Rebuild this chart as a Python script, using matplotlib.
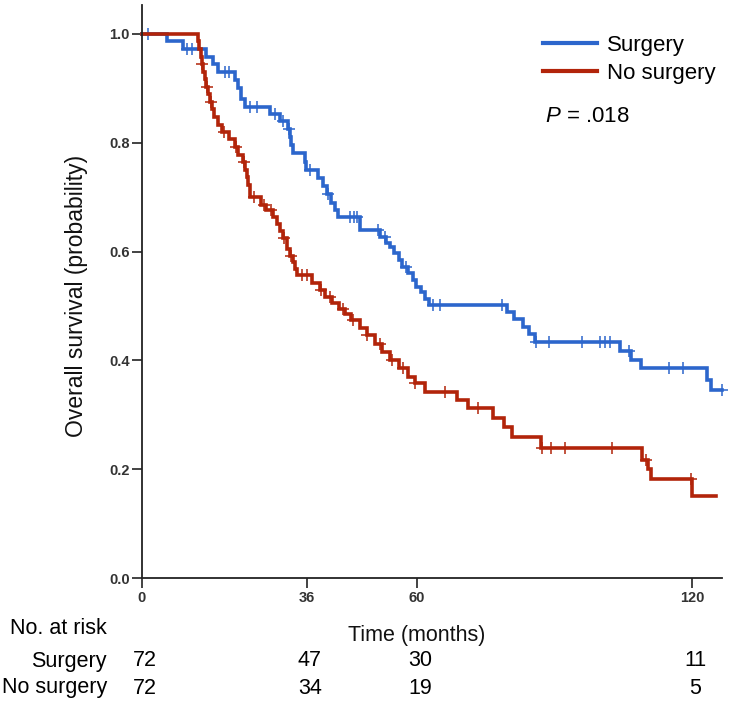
import numpy as np
import matplotlib
matplotlib.use("Agg")
import matplotlib.pyplot as plt
from matplotlib.lines import Line2D
from matplotlib.transforms import blended_transform_factory

plt.rcParams['font.family'] = ['Liberation Sans', 'DejaVu Sans']
plt.rcParams['mathtext.fontset'] = 'custom'
plt.rcParams['mathtext.it'] = 'Liberation Sans:italic'
plt.rcParams['mathtext.rm'] = 'Liberation Sans'

# === Data (event time in months, survival after the event) ===
surg_t = [5.4, 9.0, 14.0, 15.5, 16.5, 20.3, 21.0, 21.7, 22.4, 27.9, 30.0,
          31.8, 32.2, 32.6, 33.0, 35.5, 35.8, 38.3, 39.5, 40.3, 41.2, 42.0, 42.8,
          47.5, 51.8, 53.3, 54.0, 55.0, 56.0, 56.8, 58.0, 59.0, 59.8, 60.8, 61.8, 62.7,
          79.5, 81.2, 83.1, 84.5, 85.8, 104.2, 106.6, 108.8, 123.3, 124.0]
surg_s = [0.986, 0.972, 0.958, 0.944, 0.930, 0.915, 0.900, 0.880, 0.866, 0.852, 0.840,
          0.826, 0.811, 0.796, 0.781, 0.765, 0.750, 0.735, 0.720, 0.705, 0.690, 0.677, 0.664,
          0.640, 0.627, 0.616, 0.608, 0.597, 0.585, 0.572, 0.560, 0.547, 0.535, 0.525, 0.513, 0.502,
          0.489, 0.476, 0.462, 0.448, 0.434, 0.418, 0.400, 0.385, 0.364, 0.345]
surg_end = 126.4
surg_cens = [1.2, 9.8, 10.8, 18.2, 19.0, 23.5, 25.0, 29.0, 30.8, 32.0, 36.6, 40.6,
             45.3, 46.2, 47.0, 51.4, 53.0, 57.5, 63.5, 65.0, 78.6, 86.0, 88.7, 95.9,
             99.8, 100.9, 102.0, 106.2, 115.0, 118.0, 126.4]

nosurg_t = [12.2, 12.5, 12.8, 13.0, 13.4, 13.7, 14.0, 14.4, 14.8, 15.2, 15.6, 16.5,
            17.5, 19.0, 20.2, 21.0, 22.0, 22.4, 22.8, 23.1, 23.5, 26.0, 27.0, 28.6, 29.4,
            30.0, 30.7, 31.6, 32.3, 32.9, 33.4, 33.8, 37.0, 38.8, 39.9, 41.5, 43.0, 44.2,
            45.5, 47.5, 49.0, 50.8, 52.4, 54.0, 56.0, 58.0, 59.5, 61.7, 68.8, 71.0, 76.5,
            79.0, 80.8, 87.0, 109.0, 110.3, 111.0, 120.0]
nosurg_s = [0.986, 0.972, 0.958, 0.944, 0.930, 0.917, 0.903, 0.889, 0.875, 0.861, 0.847, 0.833,
            0.820, 0.806, 0.792, 0.778, 0.764, 0.750, 0.736, 0.722, 0.700, 0.686, 0.676, 0.664, 0.650,
            0.638, 0.625, 0.605, 0.592, 0.580, 0.568, 0.556, 0.542, 0.530, 0.517, 0.505, 0.495, 0.486,
            0.474, 0.460, 0.446, 0.430, 0.415, 0.401, 0.386, 0.370, 0.358, 0.342, 0.327, 0.312, 0.294,
            0.278, 0.259, 0.239, 0.217, 0.200, 0.182, 0.151]
nosurg_end = 125.3
nosurg_cens = [13.1, 14.2, 15.0, 17.8, 20.5, 22.2, 24.5, 26.5, 28.2, 31.0, 32.6, 34.8,
               36.0, 39.0, 41.0, 43.8, 46.0, 49.0, 52.0, 54.5, 57.0, 59.5, 66.0, 73.2,
               87.3, 89.3, 92.2, 102.6, 110.0, 119.8]

risk_times = [0, 36, 60, 120]
risk_surg = [72, 47, 30, 11]
risk_nosurg = [72, 34, 19, 5]

blue = "#2c66cc"
red = "#b2240a"

fig = plt.figure(figsize=(7.32, 7.02), dpi=100)
ax = fig.add_axes([142 / 732, 124 / 702, 580 / 732, 573 / 702])


def draw_km(t, s, t_end, cens, color):
    tt = np.r_[0, t, t_end]
    ss = np.r_[1.0, s, s[-1]]
    ax.step(tt, ss, where='post', color=color, lw=2.6, solid_joinstyle='miter', clip_on=False)
    s_full = np.r_[1.0, s]
    idx = np.searchsorted(t, cens, side='right')
    ax.plot(cens, s_full[idx], ls='none', marker='+', ms=8, mew=1.1, color=color, clip_on=False)


draw_km(surg_t, surg_s, surg_end, surg_cens, blue)
draw_km(nosurg_t, nosurg_s, nosurg_end, nosurg_cens, red)

ax.set_xlim(0, 126.5)
ax.set_ylim(0, 1.053)
ax.set_xticks(risk_times)
ax.set_yticks(np.arange(0, 1.01, 0.2))
ax.set_yticklabels([f"{v:.1f}" for v in np.arange(0, 1.01, 0.2)])
for side in ['top', 'right']:
    ax.spines[side].set_visible(False)
for side in ['left', 'bottom']:
    ax.spines[side].set_linewidth(1.3)
    ax.spines[side].set_color('#222222')
ax.tick_params(axis='both', direction='out', length=7, width=1.2, color='#222222',
               labelsize=10.5, labelcolor='#333333', pad=2)
for lab in ax.get_xticklabels() + ax.get_yticklabels():
    lab.set_fontweight('bold')

ax.set_ylabel("Overall survival (probability)", fontsize=16.5, color='#111111')
ax.yaxis.set_label_coords(-0.093, 0.492)
ax.set_xlabel("Time (months)", fontsize=15.5, color='#111111')
ax.xaxis.set_label_coords((417 - 142) / 580, -0.082)

# legend and p value
handles = [Line2D([], [], color=blue, lw=3), Line2D([], [], color=red, lw=3)]
fig.legend(handles, ["Surgery", "No surgery"], loc='upper left',
           bbox_to_anchor=(543 / 732, 1 - 35 / 702), frameon=False, fontsize=16,
           handlelength=2.45, handletextpad=0.45, labelspacing=0.3,
           borderpad=0, borderaxespad=0)
fig.text(545 / 732, 1 - 117 / 702, "$P$ = .018", fontsize=16, va='center', ha='left')

# number at risk table
tr = blended_transform_factory(ax.transData, fig.transFigure)
fig.text(107 / 732, 1 - 629 / 702, "No. at risk", fontsize=15.5, ha='right', va='center')
fig.text(107 / 732, 1 - 661 / 702, "Surgery", fontsize=15.5, ha='right', va='center')
fig.text(107 / 732, 1 - 688 / 702, "No surgery", fontsize=15.5, ha='right', va='center')
for t, n1, n2 in zip(risk_times, risk_surg, risk_nosurg):
    ax.text(t + 0.6, 1 - 661 / 702, str(n1), transform=tr, fontsize=15.5, ha='center', va='center')
    ax.text(t + 0.6, 1 - 688 / 702, str(n2), transform=tr, fontsize=15.5, ha='center', va='center')

fig.savefig("out.png", dpi=100)
